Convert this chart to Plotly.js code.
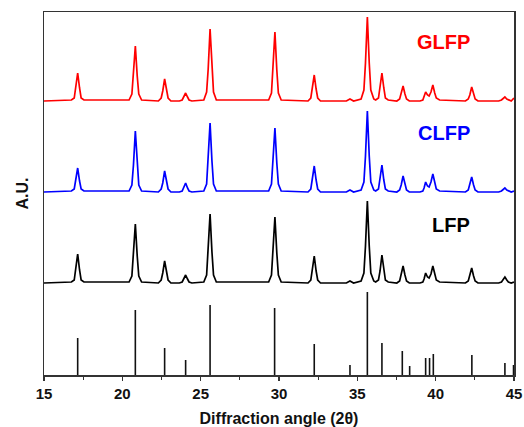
<!DOCTYPE html>
<html>
<head>
<meta charset="utf-8">
<script src="https://cdn.plot.ly/plotly-3.0.1.min.js"></script>
<style>html,body{margin:0;padding:0;background:#fff;}#chart{width:524px;height:427px;}</style>
</head>
<body>
<div id="chart"></div>
<script>
// Diffraction angle grid shared by the three measured patterns (2θ, degrees)
const angle = [
  15.0,
  16.75, 16.93, 17.03, 17.15, 17.27, 17.37, 17.55,
  20.43, 20.61, 20.71, 20.83, 20.95, 21.05, 21.23,
  22.30, 22.48, 22.58, 22.70, 22.82, 22.92, 23.10,
  23.64, 23.82, 23.92, 24.04, 24.16, 24.26, 24.44,
  25.20, 25.38, 25.48, 25.60, 25.72, 25.82, 26.00,
  29.34, 29.52, 29.62, 29.74, 29.86, 29.96, 30.14,
  31.85, 32.03, 32.13, 32.25, 32.37, 32.47, 32.65,
  34.30, 34.53, 34.76,
  35.24, 35.42, 35.52, 35.64, 35.76, 35.86,
  36.05, 36.17, 36.35, 36.45, 36.57, 36.69, 36.79, 36.97,
  37.52, 37.70, 37.80, 37.92, 38.04, 38.14, 38.32,
  39.00, 39.18, 39.26, 39.36, 39.48, 39.58, 39.70, 39.82, 39.94, 40.04, 40.25,
  41.90, 42.08, 42.18, 42.30, 42.42, 42.52, 42.70,
  44.02, 44.20, 44.30, 44.42, 44.54, 44.64, 44.82,
  45.0
];

// GLFP intensity (offset, arbitrary units)
const glfp = [
  274,
  275, 277, 287, 302, 287, 277, 275,
  275, 281, 299, 329, 299, 281, 275,
  274, 277, 284, 296, 284, 277, 274,
  274, 275, 278, 282, 278, 275, 274,
  275, 283, 306, 346, 306, 283, 275,
  275, 282, 305, 343, 305, 282, 275,
  274, 277, 286, 300, 286, 277, 274,
  274, 276, 274,
  276, 285, 312, 358, 312, 285,
  276, 275, 277, 287, 302, 287, 277, 275,
  274, 276, 281, 289, 281, 276, 274,
  274, 275, 278, 283, 280, 279, 283, 290, 282, 277, 275,
  274, 276, 280, 288, 280, 276, 274,
  274, 275, 276, 278, 276, 275, 274,
  277
];

// CLFP intensity (offset, arbitrary units)
const clfp = [
  183,
  184, 186, 194, 207, 194, 186, 184,
  184, 190, 210, 244, 210, 190, 184,
  183, 186, 192, 204, 192, 186, 183,
  183, 184, 187, 192, 187, 184, 183,
  184, 191, 214, 252, 214, 191, 184,
  184, 191, 212, 247, 212, 191, 184,
  183, 186, 195, 209, 195, 186, 183,
  183, 185, 183,
  185, 193, 219, 264, 219, 193,
  185, 184, 186, 195, 210, 195, 186, 184,
  183, 185, 190, 199, 190, 185, 183,
  183, 184, 187, 193, 189, 188, 193, 201, 192, 186, 184,
  183, 185, 190, 198, 190, 185, 183,
  183, 184, 185, 187, 185, 184, 183,
  184
];

// LFP intensity (offset, arbitrary units)
const lfp = [
  92,
  93, 95, 105, 121, 105, 95, 93,
  93, 99, 119, 151, 119, 99, 93,
  92, 95, 102, 114, 102, 95, 92,
  92, 93, 96, 100, 96, 93, 92,
  93, 100, 123, 161, 123, 100, 93,
  93, 100, 122, 158, 122, 100, 93,
  92, 95, 104, 119, 104, 95, 92,
  92, 94, 92,
  94, 102, 129, 174, 129, 102,
  94, 93, 95, 104, 120, 104, 95, 93,
  92, 94, 100, 109, 100, 94, 92,
  92, 93, 96, 102, 98, 97, 101, 109, 100, 95, 93,
  92, 94, 99, 107, 99, 94, 92,
  92, 93, 95, 98, 95, 93, 92,
  93
];

// Reference stick pattern
const stickAngle = [17.15, 20.83, 22.70, 24.04, 25.60, 29.72, 32.25, 34.53, 35.64, 36.57, 37.87, 38.34, 39.36, 39.61, 39.85, 42.31, 44.42, 44.97];
const stickHeight = [37, 65, 27, 15, 70, 67, 31, 10, 83, 32, 24, 9, 17, 17, 21, 20, 12, 10];

const seriesNames = ["GLFP", "CLFP", "LFP"];
const labelY = [333, 242, 150];
const xTicks = [15, 20, 25, 30, 35, 40, 45];

const FONT = "Liberation Sans, Arial, Helvetica, sans-serif";
const colors = ["#ff0000", "#0000ff", "#000000"];
const seriesY = [glfp, clfp, lfp];

const traces = seriesY.map((ys, i) => ({
  type: "scatter", mode: "lines", x: angle, y: ys, name: seriesNames[i],
  line: {color: colors[i], width: 1.7}, hoverinfo: "skip"
}));

// sticks: vertical segments from 0 to each height
const sx = [], sy = [];
stickAngle.forEach((a, i) => { sx.push(a, a, null); sy.push(0, stickHeight[i], null); });
traces.push({
  type: "scatter", mode: "lines", x: sx, y: sy, connectgaps: false,
  line: {color: "#111", width: 1.6}, hoverinfo: "skip", cliponaxis: true
});

const annotations = seriesNames.map((n, i) => ({
  x: 42.31, y: labelY[i], xref: "x", yref: "y", text: n, showarrow: false,
  xanchor: "right", yanchor: "middle",
  font: {family: FONT, size: 20, weight: "bold", color: colors[i]}
}));

const layout = {
  width: 524, height: 427,
  margin: {l: 44, r: 10, t: 12, b: 52},
  paper_bgcolor: "#fff", plot_bgcolor: "#fff",
  showlegend: false,
  xaxis: {
    range: [15, 45], tickvals: xTicks, ticks: "outside", ticklen: 4, tickwidth: 1.2, tickcolor: "#333",
    minor: {dtick: 2.5, tick0: 15, ticks: "outside", ticklen: 3, tickcolor: "#333", tickwidth: 1},
    showline: true, linecolor: "#333", linewidth: 1.5, mirror: true,
    showgrid: false, zeroline: false,
    tickfont: {family: FONT, size: 15, weight: "bold", color: "#111"},
    title: {text: "Diffraction angle (2θ)", font: {family: FONT, size: 16, weight: "bold", color: "#111"}, standoff: 12}
  },
  yaxis: {
    range: [0, 363], showticklabels: false, ticks: "",
    showline: true, linecolor: "#333", linewidth: 1.5, mirror: true,
    showgrid: false, zeroline: false,
    title: {text: "A.U.", font: {family: FONT, size: 16, weight: "bold", color: "#111"}, standoff: 10}
  },
  annotations: annotations
};

Plotly.newPlot("chart", traces, layout, {displayModeBar: false, staticPlot: true});
</script>
</body>
</html>
